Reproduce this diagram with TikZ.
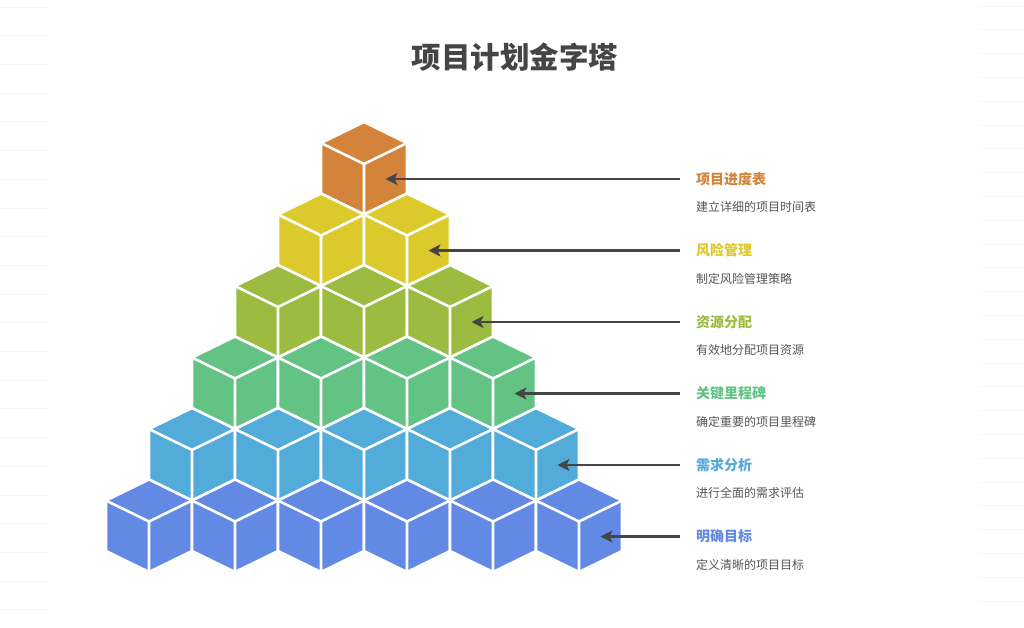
\documentclass[tikz,border=0pt]{standalone}
\usepackage{fontspec}
\newfontfamily\cjk{Noto Sans CJK SC}
\usetikzlibrary{arrows.meta}
\definecolor{rowA}{HTML}{D3843A}
\definecolor{rowB}{HTML}{DCC92B}
\definecolor{rowC}{HTML}{9BBC40}
\definecolor{rowD}{HTML}{63C385}
\definecolor{rowE}{HTML}{53ABD9}
\definecolor{rowF}{HTML}{6289E4}
\definecolor{ink}{HTML}{454545}
\definecolor{note}{HTML}{555555}

\begin{document}
\begin{tikzpicture}
  [x=1pt, y=-1pt,
   cubeface/.style={draw=white, line width=2.6pt, line join=round},
   pics/cube/.style={code={
     \draw[cubeface, fill=#1] (0,0) -- (43,21) -- (43,71.5) -- (0,92.5)
        -- (-43,71.5) -- (-43,21) -- cycle;
     \draw[cubeface] (-43,21) -- (0,42) -- (43,21) (0,42) -- (0,92.5);}},
   head/.style={font=\cjk\bfseries\fontsize{14pt}{16pt}\selectfont, inner sep=0pt, anchor=west},
   desc/.style={font=\cjk\fontsize{12pt}{14pt}\selectfont, text=note, inner sep=0pt, anchor=west},
   pointer/.style={draw=ink, line width=2.6pt, -{Stealth[length=12pt, width=12pt, inset=3pt]}},
   rule/.style={draw=black!3, line width=0.8pt}]
  \useasboundingbox[fill=white] (0,0) rectangle (1024,627);

  % faint ruled margins
  \foreach \i in {0,...,21}
    \draw[rule] (0,{7+28.7*\i}) -- (48,{7+28.7*\i});
  \foreach \i in {0,...,25}
    \draw[rule] (980,{6+23.8*\i}) -- (1024,{6+23.8*\i});

  \node[font=\cjk\bfseries\fontsize{29.5pt}{32pt}\selectfont, text=ink] (title) at (515,57) {项目计划金字塔};

  % the pyramid, top row first
  \foreach \col [count=\k from 0] in {rowA,rowB,rowC,rowD,rowE,rowF}
    \foreach \j in {0,...,\k}
      \pic at ({364+43*(2*\j-\k)},{122+71.5*\k}) {cube=\col};

  % labels and pointers
  \foreach \name/\text/\col [count=\k from 0] in
    {项目进度表/建立详细的项目时间表/rowA,
     风险管理/制定风险管理策略/rowB,
     资源分配/有效地分配项目资源/rowC,
     关键里程碑/确定重要的项目里程碑/rowD,
     需求分析/进行全面的需求评估/rowE,
     明确目标/定义清晰的项目目标/rowF}
  {
    \coordinate (tip\k) at ({385.5+43*\k},{179+71.5*\k});
    \node[head, text=\col] (lab\k) at (696,{179+71.5*\k}) {\name};
    \node[desc] (desc\k) at (696,{207+71.5*\k}) {\text};
    \coordinate (tail\k) at ([xshift=-16pt]lab\k.west);
    \draw[pointer] (tail\k) -- (tip\k);
  }
\end{tikzpicture}
\end{document}
